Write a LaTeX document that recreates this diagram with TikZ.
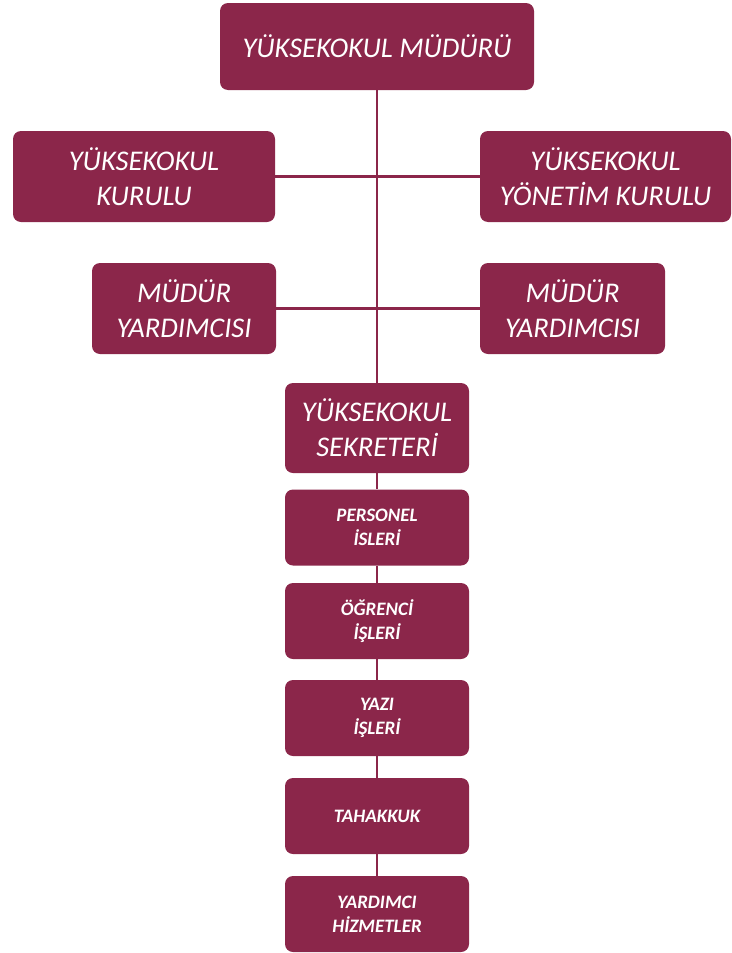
\documentclass[tikz,border=0pt]{standalone}
\usepackage{fontspec}
\setmainfont{Carlito}
\definecolor{bordo}{RGB}{139,38,74}
\begin{document}
\begin{tikzpicture}[x=1pt, y=-1pt,
    kutu/.style={fill=bordo, rounded corners=8pt, text=white, align=center, inner sep=0pt,
      font=\itshape\fontsize{28.5}{35}\selectfont},
    kucuk/.style={kutu, minimum width=184pt, minimum height=76pt,
      font=\bfseries\itshape\fontsize{19}{24}\selectfont},
    hat/.style={draw=bordo, line width=2.3pt}]
  \useasboundingbox (0,0) rectangle (731,953);
  % ust kademe
  \node[kutu, minimum width=314pt, minimum height=87pt] (mudur) at (377,46.5) {YÜKSEKOKUL MÜDÜRÜ};
  \node[kutu, minimum width=262pt, minimum height=91pt] (kurul) at (144,176.5) {YÜKSEKOKUL\\KURULU};
  \node[kutu, minimum width=251pt, minimum height=91pt] (yonetim) at (605.5,176.5) {YÜKSEKOKUL\\YÖNETİM KURULU};
  \node[kutu, minimum width=184pt, minimum height=91pt] (yard1) at (184,308.5) {MÜDÜR\\YARDIMCISI};
  \node[kutu, minimum width=185pt, minimum height=91pt] (yard2) at (572.5,308.5) {MÜDÜR\\YARDIMCISI};
  \node[kutu, minimum width=184pt, minimum height=90pt] (sekreter) at (377,428) {YÜKSEKOKUL\\SEKRETERİ};
  % birimler
  \node[kucuk] (personel) at (377,527.5) {PERSONEL\\İSLERİ};
  \node[kucuk] (ogrenci) at (377,621) {ÖĞRENCİ\\İŞLERİ};
  \node[kucuk] (yazi) at (377,718) {YAZI\\İŞLERİ};
  \node[kucuk] (tahakkuk) at (377,816) {TAHAKKUK};
  \node[kucuk] (hizmet) at (377,914) {YARDIMCI\\HİZMETLER};
  % baglantilar
  \draw[hat] (mudur) -- (sekreter);
  \draw[hat] (kurul) -- (yonetim);
  \draw[hat] (yard1) -- (yard2);
  \draw[hat] (sekreter) -- (personel);
  \draw[hat] (personel) -- (ogrenci);
  \draw[hat] (ogrenci) -- (yazi);
  \draw[hat] (yazi) -- (tahakkuk);
  \draw[hat] (tahakkuk) -- (hizmet);
\end{tikzpicture}
\end{document}
